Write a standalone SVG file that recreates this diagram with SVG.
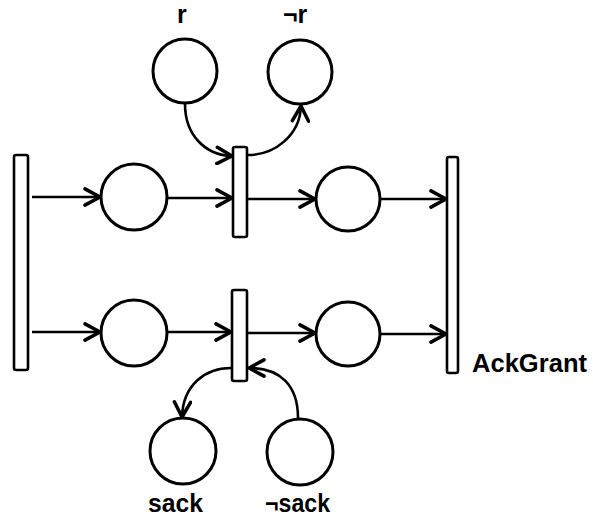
<svg xmlns="http://www.w3.org/2000/svg" width="593" height="523" viewBox="0 0 593 523">
  <style>
    .place { fill: #fff; stroke: #000; stroke-width: 3; }
    .trans { fill: #fff; stroke: #000; stroke-width: 2.6; }
    .arc { fill: none; stroke: #000; stroke-width: 2.6; marker-end: url(#arrow); }
    .lbl { font-family: "Liberation Sans", Arial, sans-serif; font-weight: bold; font-size: 25px; fill: #000; }
  </style>
  <defs>
    <marker id="arrow" markerUnits="userSpaceOnUse" markerWidth="20" markerHeight="20" viewBox="-14 -8 16 16" refX="0" refY="0" orient="auto">
      <path d="M-12,-6.5 L0,0 L-12,6.5" fill="none" stroke="#000" stroke-width="2.8" stroke-linecap="round" stroke-linejoin="round"/>
    </marker>
  </defs>
  <rect width="593" height="523" fill="#fff"/>

  <!-- transitions -->
  <g id="t-fork"><rect class="trans" x="14" y="155" width="14" height="215" rx="2"/></g>
  <g id="t-top"><rect class="trans" x="233" y="147" width="14" height="90" rx="2"/></g>
  <g id="t-bottom"><rect class="trans" x="232" y="290" width="15" height="91" rx="2"/></g>
  <g id="t-ackgrant">
    <rect class="trans" x="447" y="157" width="11" height="216" rx="2"/>
    <text class="lbl" x="472" y="372" textLength="115" lengthAdjust="spacingAndGlyphs">AckGrant</text>
  </g>

  <!-- places -->
  <g id="p-r">
    <circle class="place" cx="185" cy="71" r="32"/>
    <text class="lbl" x="177" y="23">r</text>
  </g>
  <g id="p-not-r">
    <circle class="place" cx="300" cy="72" r="32"/>
    <text class="lbl" x="283" y="23">¬r</text>
  </g>
  <g id="p-top-left"><circle class="place" cx="134" cy="197" r="33"/></g>
  <g id="p-top-right"><circle class="place" cx="348" cy="199" r="32"/></g>
  <g id="p-bottom-left"><circle class="place" cx="134" cy="333" r="33"/></g>
  <g id="p-bottom-right"><circle class="place" cx="348" cy="334" r="32"/></g>
  <g id="p-sack">
    <circle class="place" cx="183" cy="451" r="33"/>
    <text class="lbl" x="148" y="512" textLength="55" lengthAdjust="spacingAndGlyphs">sack</text>
  </g>
  <g id="p-not-sack">
    <circle class="place" cx="300" cy="452" r="33"/>
    <text class="lbl" x="265" y="512" textLength="65" lengthAdjust="spacingAndGlyphs">¬sack</text>
  </g>

  <!-- arcs -->
  <g id="arcs">
    <path class="arc" d="M32,197 L100,197"/>
    <path class="arc" d="M167,198 L232,198"/>
    <path class="arc" d="M248,199 L315,199"/>
    <path class="arc" d="M381,199 L446,199"/>
    <path class="arc" d="M32,332 L100,332"/>
    <path class="arc" d="M167,332 L231,332"/>
    <path class="arc" d="M248,333 L315,333"/>
    <path class="arc" d="M381,334 L446,334"/>
    <path class="arc" d="M185,104 C185,135 205,155 232,156"/>
    <path class="arc" d="M248,155 C275,155 300,135 301,106"/>
    <path class="arc" d="M231,368 C205,368 183,385 182,417"/>
    <path class="arc" d="M298,418 C298,385 280,368 249,368"/>
  </g>
</svg>
